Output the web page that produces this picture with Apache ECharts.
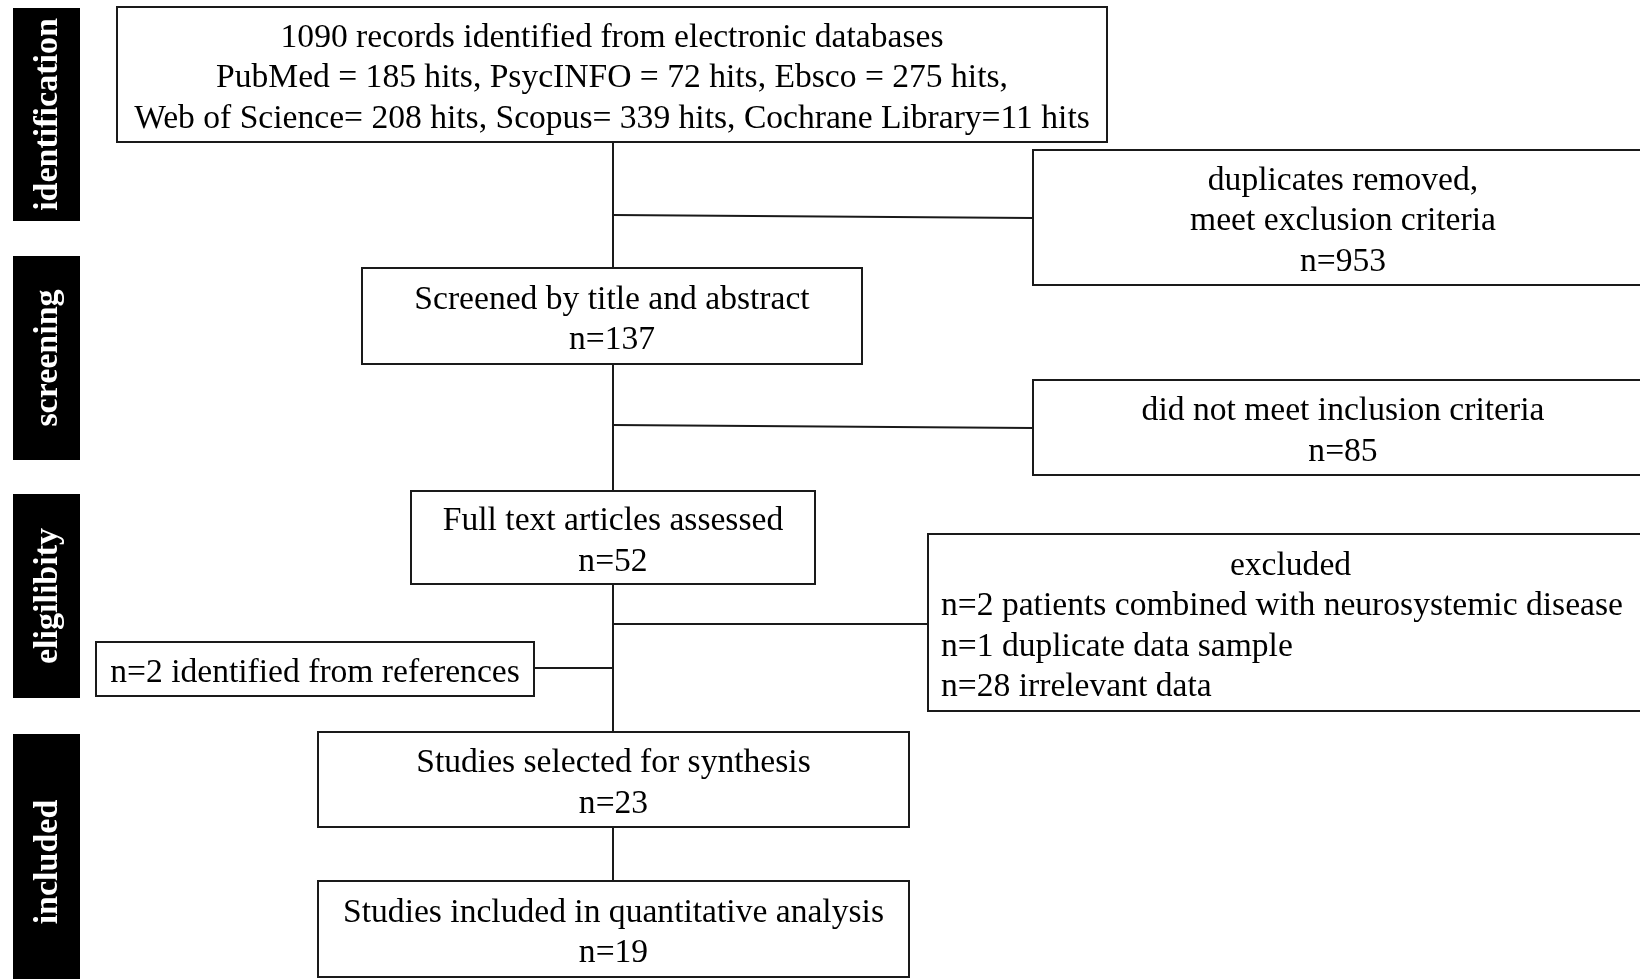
<!DOCTYPE html>
<html><head><meta charset="utf-8">
<script src="https://cdn.jsdelivr.net/npm/echarts@6/dist/echarts.min.js"></script>
<style>html,body{margin:0;padding:0;background:#fff}#c{width:1640px;height:979px}</style>
</head><body><div id="c"></div>
<script>
// ---- content ----
const stageLabels = ['identification', 'screening', 'eligilibity', 'included'];
const boxLines = [
  ['1090 records identified from electronic databases',
   'PubMed = 185 hits, PsycINFO = 72 hits, Ebsco = 275 hits,',
   'Web of Science= 208 hits, Scopus= 339 hits, Cochrane Library=11 hits'],
  ['duplicates removed,', 'meet exclusion criteria', 'n=953'],
  ['Screened by title and abstract', 'n=137'],
  ['did not meet inclusion criteria', 'n=85'],
  ['Full text articles assessed', 'n=52'],
  ['n=2 identified from references'],
  ['Studies selected for synthesis', 'n=23'],
  ['Studies included in quantitative analysis', 'n=19']
];
const excludedTitle = ['excluded'];
const excludedItems = ['n=2 patients combined with neurosystemic disease', 'n=1 duplicate data sample', 'n=28 irrelevant data'];

// ---- layout (diagram coordinates, axis units) ----
const stageLayout = [[13, 8, 80, 221], [13, 256, 80, 460], [13, 494, 80, 698], [13, 734, 80, 990]];
const boxLayout = [
  [117, 7, 1107, 142],
  [1033, 150, 1653, 285],
  [362, 268, 862, 364],
  [1033, 380, 1653, 475],
  [411, 491, 815, 584],
  [96, 642, 534, 696],
  [318, 732, 909, 827],
  [318, 881, 909, 977]
];
const excludedLayout = [[928, 534, 1653, 711, 941]];
const connectorLayout = [
  [613, 142, 613, 268], [613, 364, 613, 491], [613, 584, 613, 732], [613, 827, 613, 881],
  [613, 215, 1033, 218], [613, 425, 1033, 428], [613, 624, 928, 624], [534, 668, 613, 668]
];

// ---- style ----
const FONT_FAMILY = '"Liberation Serif", "Times New Roman", serif';
const FS = 33.6, LFS = 34, LH = 40.5;
const STROKE = '#1a1a1a', LW = 2;

function pts(api) {
  return [api.coord([api.value(0), api.value(1)]), api.coord([api.value(2), api.value(3)])];
}
function txt(t, x, y, align) {
  return { type: 'text', x: x, y: y, style: { text: t, fill: '#000', fontFamily: FONT_FAMILY, fontSize: FS, align: align || 'center', verticalAlign: 'middle' } };
}

function renderStage(params, api) {
  const [a, b] = pts(api);
  return { type: 'group', children: [
    { type: 'rect', shape: { x: a[0], y: a[1], width: b[0] - a[0], height: b[1] - a[1] }, style: { fill: '#000' } },
    { type: 'text', x: (a[0] + b[0]) / 2 + 2, y: (a[1] + b[1]) / 2, rotation: Math.PI / 2,
      style: { text: stageLabels[params.dataIndex], fill: '#fff', fontFamily: FONT_FAMILY, fontWeight: 'bold', fontSize: LFS, align: 'center', verticalAlign: 'middle' } }
  ] };
}

function renderBox(params, api) {
  const [a, b] = pts(api);
  const lines = boxLines[params.dataIndex];
  const cx = (a[0] + b[0]) / 2, cy = (a[1] + b[1]) / 2 + 4;
  const children = [{ type: 'rect', shape: { x: a[0], y: a[1], width: b[0] - a[0], height: b[1] - a[1] }, style: { fill: '#fff', stroke: STROKE, lineWidth: LW } }];
  lines.forEach((t, k) => children.push(txt(t, cx, cy + (k - (lines.length - 1) / 2) * LH)));
  return { type: 'group', children: children };
}

function renderExcluded(params, api) {
  const [a, b] = pts(api);
  const left = api.coord([api.value(4), 0])[0];
  const all = excludedTitle.concat(excludedItems);
  const cx = (a[0] + b[0]) / 2, cy = (a[1] + b[1]) / 2 + 4;
  const children = [{ type: 'rect', shape: { x: a[0], y: a[1], width: b[0] - a[0], height: b[1] - a[1] }, style: { fill: '#fff', stroke: STROKE, lineWidth: LW } }];
  all.forEach((t, k) => {
    const y = cy + (k - (all.length - 1) / 2) * LH;
    children.push(k < excludedTitle.length ? txt(t, cx, y) : txt(t, left, y, 'left'));
  });
  return { type: 'group', children: children };
}

function renderConnector(params, api) {
  const [a, b] = pts(api);
  return { type: 'line', shape: { x1: a[0], y1: a[1], x2: b[0], y2: b[1] }, style: { stroke: STROKE, lineWidth: LW } };
}

const chart = echarts.init(document.getElementById('c'), null, { renderer: 'canvas' });
chart.setOption({
  backgroundColor: '#fff',
  animation: false,
  grid: { left: 0, right: 0, top: 0, bottom: 0 },
  xAxis: { type: 'value', min: 0, max: 1640, show: false },
  yAxis: { type: 'value', min: 0, max: 979, inverse: true, show: false },
  series: [
    { type: 'custom', coordinateSystem: 'cartesian2d', clip: false, renderItem: renderConnector, data: connectorLayout, z: 1 },
    { type: 'custom', coordinateSystem: 'cartesian2d', clip: false, renderItem: renderBox, data: boxLayout, z: 2 },
    { type: 'custom', coordinateSystem: 'cartesian2d', clip: false, renderItem: renderExcluded, data: excludedLayout, z: 2 },
    { type: 'custom', coordinateSystem: 'cartesian2d', clip: false, renderItem: renderStage, data: stageLayout, z: 2 }
  ]
});
</script>
</body></html>
